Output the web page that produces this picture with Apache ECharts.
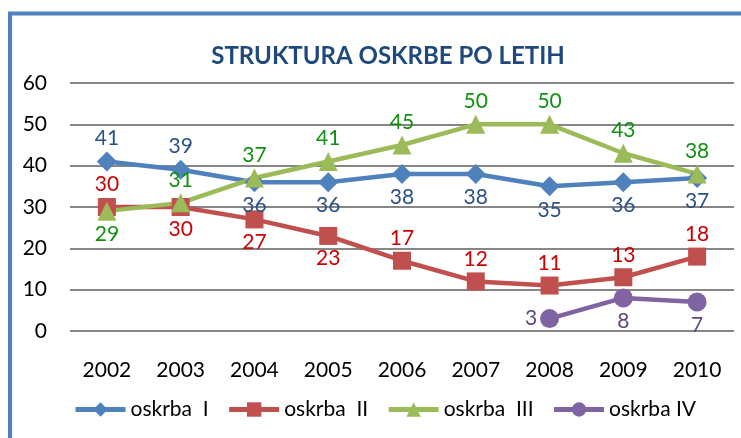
<!DOCTYPE html>
<html>
<head>
<meta charset="utf-8">
<script src="https://cdn.jsdelivr.net/npm/echarts@6/dist/echarts.min.js"></script>
<style>
  html, body { margin: 0; padding: 0; background: #fff; }
  #main { width: 741px; height: 438px; }
</style>
</head>
<body>
<div id="main"></div>
<script>
const years = ["2002", "2003", "2004", "2005", "2006", "2007", "2008", "2009", "2010"];
const oskrba1 = [41, 39, 36, 36, 38, 38, 35, 36, 37];
const oskrba2 = [30, 30, 27, 23, 17, 12, 11, 13, 18];
const oskrba3 = [29, 31, 37, 41, 45, 50, 50, 43, 38];
const oskrba4 = [null, null, null, null, null, null, 3, 8, 7];
const yTicks = [0, 10, 20, 30, 40, 50, 60];

// where each value label sits relative to its marker
const pos1 = ["top", "top", "bottom", "bottom", "bottom", "bottom", "bottom", "bottom", "bottom"];
const pos2 = ["top", "bottom", "bottom", "bottom", "top", "top", "top", "top", "top"];
const pos3 = ["bottom", "top", "top", "top", "top", "top", "top", "top", "top"];
const pos4 = [null, null, null, null, null, null, "left", "bottom", "bottom"];

const FONT = "Lato, 'Open Sans', sans-serif";

function withLabels(values, positions) {
  return values.map((v, i) => (v === null ? null : { value: v, label: { position: positions[i] } }));
}

function lineSeries(name, values, positions, color, labelColor, symbol, size) {
  return {
    name: name,
    type: "line",
    data: withLabels(values, positions),
    symbol: symbol,
    symbolSize: size,
    lineStyle: { color: color, width: 4.5 },
    itemStyle: { color: color },
    label: {
      show: true,
      color: labelColor,
      fontFamily: FONT,
      fontSize: 21,
      distance: 3
    },
    emphasis: { disabled: true },
    animation: false
  };
}

const chart = echarts.init(document.getElementById("main"));

chart.setOption({
  backgroundColor: "#fff",
  title: {
    text: "STRUKTURA OSKRBE PO LETIH",
    left: 383,
    textAlign: "center",
    top: 39,
    textStyle: { color: "#1F497D", fontFamily: FONT, fontWeight: "bold", fontSize: 24 }
  },
  graphic: [
    {
      type: "rect",
      shape: { x: 10, y: 13.5, width: 800, height: 500 },
      style: { fill: null, stroke: "#4F81BD", lineWidth: 4 },
      silent: true
    }
  ],
  grid: { left: 70, right: 7, top: 83, bottom: 107 },
  xAxis: {
    type: "category",
    data: years,
    axisLine: { show: false },
    axisTick: { show: false },
    axisLabel: { color: "#000", fontFamily: FONT, fontSize: 21, margin: 29 }
  },
  yAxis: {
    type: "value",
    min: yTicks[0],
    max: yTicks[yTicks.length - 1],
    interval: 10,
    axisLine: { show: false },
    axisTick: { show: false },
    axisLabel: { color: "#000", fontFamily: FONT, fontSize: 21, margin: 23 },
    splitLine: { lineStyle: { color: "#868686", width: 2 } }
  },
  legend: {
    left: 68,
    top: 394,
    itemWidth: 50,
    itemHeight: 18,
    itemGap: 18,
    lineStyle: { width: 5 },
    textStyle: { color: "#000", fontFamily: FONT, fontSize: 21 },
    data: ["oskrba  I", "oskrba  II", "oskrba  III", "oskrba IV"]
  },
  series: [
    lineSeries("oskrba  I", oskrba1, pos1, "#4F81BD", "#2C5189", "diamond", 20),
    lineSeries("oskrba  II", oskrba2, pos2, "#C0504D", "#CC0000", "rect", 18),
    lineSeries("oskrba  III", oskrba3, pos3, "#9BBB59", "#119111", "triangle", 19),
    lineSeries("oskrba IV", oskrba4, pos4, "#8064A2", "#5F497A", "circle", 19)
  ]
});
</script>
</body>
</html>
